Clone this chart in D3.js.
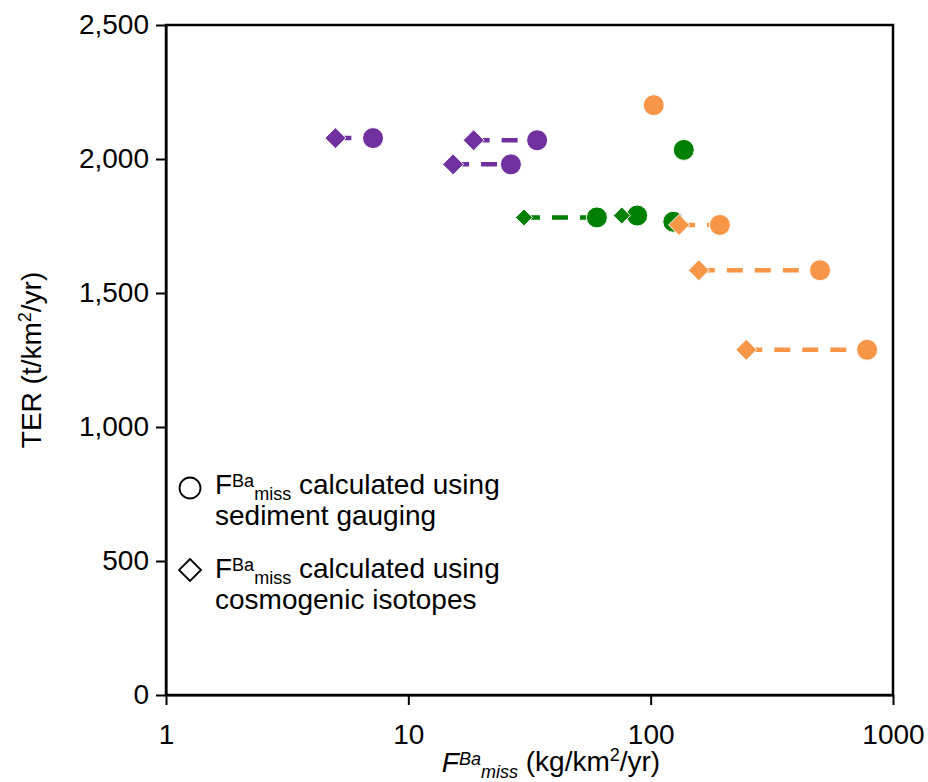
<!DOCTYPE html>
<html>
<head>
<meta charset="utf-8">
<script src="https://cdn.jsdelivr.net/npm/d3@7"></script>
<style>
  body { margin: 0; background: #fff; }
  text { font-family: "Liberation Sans", Arial, Helvetica, sans-serif; fill: #000; }
</style>
</head>
<body>
<svg id="chart" width="928" height="782"></svg>
<script>
// one entry per catchment: colour group, TER, F(Ba,miss) from sediment gauging (circle)
// and from cosmogenic isotopes (diamond, null when missing)
var groups    = ["purple", "purple", "purple", "green", "green", "green", "green", "orange", "orange", "orange", "orange"];
var ter       = [2078, 2070, 1980, 1782, 1789, 1766, 2034, 2201, 1754, 1585, 1288];
var fGauging  = [7.15, 34, 26.5, 60, 88, 124, 137, 103, 193, 500, 782];
var fCosmo    = [5.0, 18.6, 15.3, 30, 76, null, null, null, 131, 158, 248];

var xTicks = [1, 10, 100, 1000];
var yTicks = [0, 500, 1000, 1500, 2000, 2500];

var colors = {purple: "#7030A0", green: "#008000", orange: "#F79646"};
var diamondHalf = {purple: 10.5, green: 8.5, orange: 10.5};
var fs = 28;

var svg = d3.select("#chart");
svg.append("rect").attr("width", 928).attr("height", 782).attr("fill", "#fff");

var margin = {top: 25, right: 35, bottom: 87, left: 166};
var width = 928, height = 782;

var x = d3.scaleLog().domain([1, 1000]).range([margin.left, width - margin.right]);
var y = d3.scaleLinear().domain([0, 2500]).range([height - margin.bottom, margin.top]);

var rows = groups.map(function(g, i) {
  return {group: g, ter: ter[i], gauge: fGauging[i], cosmo: fCosmo[i]};
});

// frame
svg.append("rect")
  .attr("x", x(1)).attr("y", y(2500))
  .attr("width", x(1000) - x(1)).attr("height", y(0) - y(2500))
  .attr("fill", "none").attr("stroke", "#000").attr("stroke-width", 2.5);

// axes
var yAxis = svg.append("g")
  .attr("transform", "translate(" + x(1) + ",0)")
  .call(d3.axisLeft(y).tickValues(yTicks).tickFormat(d3.format(",")).tickSize(10).tickSizeOuter(0).tickPadding(7));
var xAxis = svg.append("g")
  .attr("transform", "translate(0," + y(0) + ")")
  .call(d3.axisBottom(x).tickValues(xTicks).tickFormat(d3.format("d")).tickSize(10).tickSizeOuter(0).tickPadding(19));

[yAxis, xAxis].forEach(function(a) {
  a.selectAll("path, line").attr("stroke", "#000").attr("stroke-width", 2);
  a.selectAll("text").attr("font-size", fs).attr("fill", "#000")
    .attr("font-family", '"Liberation Sans", Arial, Helvetica, sans-serif');
});

function diamond(cx, cy, h) {
  return "M" + cx + "," + (cy - h) + "L" + (cx + h) + "," + cy + "L" + cx + "," + (cy + h) + "L" + (cx - h) + "," + cy + "Z";
}

// series drawn in order: purple, green, orange
["purple", "green", "orange"].forEach(function(g) {
  var data = rows.filter(function(d) { return d.group === g; });
  var layer = svg.append("g");

  layer.selectAll("line.link")
    .data(data.filter(function(d) { return d.cosmo !== null; }))
    .enter().append("line")
    .attr("class", "link")
    .attr("x1", function(d) { return x(d.cosmo); })
    .attr("x2", function(d) { return x(d.gauge); })
    .attr("y1", function(d) { return y(d.ter); })
    .attr("y2", function(d) { return y(d.ter); })
    .attr("stroke", colors[g])
    .attr("stroke-width", 4.5)
    .attr("stroke-dasharray", "16,12");

  layer.selectAll("circle")
    .data(data)
    .enter().append("circle")
    .attr("cx", function(d) { return x(d.gauge); })
    .attr("cy", function(d) { return y(d.ter); })
    .attr("r", 10.5)
    .attr("fill", colors[g])
    .attr("stroke", "#fff").attr("stroke-width", 1);

  layer.selectAll("path.dia")
    .data(data.filter(function(d) { return d.cosmo !== null; }))
    .enter().append("path")
    .attr("class", "dia")
    .attr("d", function(d) { return diamond(x(d.cosmo), y(d.ter), diamondHalf[g]); })
    .attr("fill", colors[g])
    .attr("stroke", "#fff").attr("stroke-width", 1);
});

// F^Ba_miss rich label
function fba(t, size, italic) {
  var st = italic ? "italic" : "normal";
  var small = Math.round(size * 0.65);
  t.append("tspan").attr("font-size", size).attr("font-style", st).text("F");
  t.append("tspan").attr("font-size", small).attr("font-style", st).attr("dy", -7).text("Ba");
  t.append("tspan").attr("font-size", small).attr("font-style", st).attr("dy", 13).text("miss");
  return -6;
}

// legend
svg.append("circle").attr("cx", 190).attr("cy", 488).attr("r", 10.5)
  .attr("fill", "none").attr("stroke", "#000").attr("stroke-width", 1.8);
svg.append("path").attr("d", diamond(190, 570, 11))
  .attr("fill", "none").attr("stroke", "#000").attr("stroke-width", 1.8);

var legendLines = [
  ["calculated using", "sediment gauging"],
  ["calculated using", "cosmogenic isotopes"]
];
var legendY = [494, 578];
legendLines.forEach(function(l, i) {
  var t = svg.append("text").attr("x", 215).attr("y", legendY[i]).attr("font-size", fs);
  var back = fba(t, fs, false);
  t.append("tspan").attr("dy", back).text(" " + l[0]);
  svg.append("text").attr("x", 215).attr("y", legendY[i] + 31).attr("font-size", fs).text(l[1]);
});

// x title
var xt = svg.append("text").attr("x", 551).attr("y", 772).attr("text-anchor", "middle").attr("font-size", fs);
var b = fba(xt, fs, true);
xt.append("tspan").attr("dy", b - 1).text(" (kg/km");
xt.append("tspan").attr("font-size", 18).attr("dy", -10).text("2");
xt.append("tspan").attr("dy", 10).text("/yr)");

// y title
var yt = svg.append("text")
  .attr("transform", "translate(41," + ((y(0) + y(2500)) / 2) + ") rotate(-90)")
  .attr("text-anchor", "middle").attr("font-size", fs);
yt.append("tspan").text("TER (t/km");
yt.append("tspan").attr("font-size", 18).attr("dy", -10).text("2");
yt.append("tspan").attr("dy", 10).text("/yr)");
</script>
</body>
</html>
